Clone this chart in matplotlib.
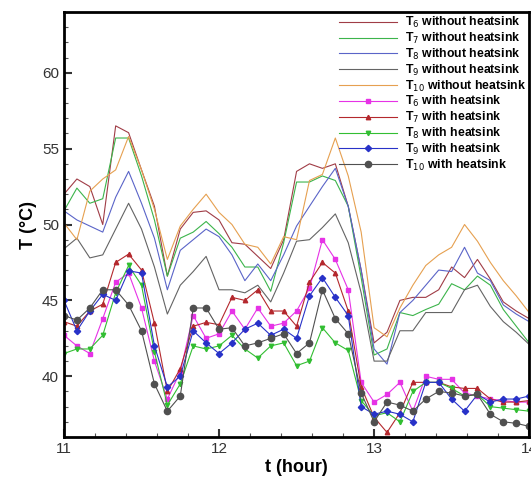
import numpy as np
import matplotlib
matplotlib.use('Agg')
import matplotlib.pyplot as plt
from matplotlib.ticker import MultipleLocator

plt.rcParams['font.family'] = ['Liberation Sans', 'DejaVu Sans']

# time axis: 5 minute steps from 11:00 to 14:00
t = 11 + np.arange(37) / 12.0

# without heatsink
T6_wo = [52.0, 53.0, 52.5, 50.0, 56.5, 56.05, 53.6, 51.2, 46.6, 49.7, 50.8, 50.9, 50.3,
         48.8, 48.7, 47.9, 47.1, 49.0, 53.5, 54.0, 53.7, 54.0, 51.2, 47.0, 42.2, 42.9,
         45.0, 45.2, 45.2, 45.7, 47.2, 46.5, 47.7, 46.4, 44.9, 44.3, 43.8]
T7_wo = [50.9, 52.4, 51.4, 51.7, 55.7, 55.7, 53.2, 50.3, 46.6, 49.1, 49.5, 50.2, 49.4,
         48.5, 47.2, 47.2, 45.6, 48.8, 52.8, 52.8, 53.2, 52.9, 51.2, 46.5, 41.4, 41.8,
         44.2, 44.0, 44.4, 44.75, 46.1, 45.7, 46.6, 46.0, 44.4, 43.3, 42.2]
T8_wo = [50.9, 50.3, 49.9, 49.5, 51.8, 53.5, 51.4, 49.1, 45.7, 48.3, 49.0, 49.7, 49.2,
         48.0, 46.3, 47.4, 46.3, 48.0, 49.9, 51.2, 52.5, 53.7, 51.2, 47.0, 41.8, 40.8,
         44.2, 45.0, 46.0, 47.0, 46.9, 48.5, 46.8, 46.3, 44.7, 44.1, 43.6]
T9_wo = [48.4, 49.1, 47.8, 48.0, 49.7, 51.4, 49.7, 47.2, 44.1, 46.0, 46.9, 47.9, 45.7,
         45.7, 45.5, 46.0, 44.9, 46.8, 48.9, 49.0, 49.8, 50.7, 48.8, 45.5, 41.0, 41.0,
         43.0, 43.0, 44.2, 44.2, 44.2, 45.7, 46.0, 44.6, 43.6, 42.9, 42.1]
T10_wo = [50.1, 49.0, 52.2, 53.0, 53.6, 55.8, 53.6, 51.0, 47.7, 49.9, 51.0, 52.0, 50.8,
          50.0, 48.7, 48.5, 47.4, 49.2, 49.0, 52.9, 53.3, 55.7, 53.2, 49.5, 43.2, 42.6,
          44.5, 46.0, 47.3, 48.0, 48.5, 50.0, 48.9, 47.5, 46.3, 45.3, 44.2]

# with heatsink
T6_w = [42.7, 42.0, 41.5, 43.8, 46.2, 46.8, 44.5, 41.0, 38.5, 40.3, 44.0, 42.5, 42.8,
        44.3, 43.1, 44.5, 43.3, 43.5, 44.3, 45.8, 49.0, 47.7, 45.7, 39.6, 38.3, 38.8,
        39.6, 37.7, 40.0, 39.8, 39.8, 38.9, 38.7, 38.5, 38.4, 38.3, 38.3]
T7_w = [43.6, 43.3, 44.3, 44.75, 47.5, 48.05, 47.0, 43.5, 39.0, 40.5, 43.3, 43.55, 43.4,
        45.2, 45.0, 45.7, 44.3, 44.3, 43.3, 46.2, 47.5, 46.8, 44.3, 39.3, 37.3, 36.3,
        37.6, 39.6, 39.6, 39.6, 39.3, 39.2, 39.2, 38.5, 38.3, 38.3, 38.4]
T8_w = [41.5, 41.8, 41.8, 42.7, 45.5, 47.3, 46.0, 41.6, 38.1, 39.5, 42.0, 41.8, 42.0,
        42.7, 41.8, 41.2, 42.0, 42.2, 40.7, 41.0, 43.2, 42.2, 41.7, 38.4, 37.4, 37.6,
        37.0, 39.0, 39.6, 39.6, 39.2, 38.7, 38.8, 38.0, 37.9, 37.8, 37.7]
T9_w = [45.0, 43.0, 44.3, 45.4, 45.0, 46.95, 46.8, 42.0, 39.3, 40.0, 43.0, 42.2, 41.5,
        42.2, 43.1, 43.5, 42.7, 43.1, 42.5, 45.3, 46.5, 45.2, 44.0, 38.0, 37.5, 37.7,
        37.5, 37.0, 39.6, 39.6, 38.5, 37.7, 38.8, 38.3, 38.5, 38.5, 38.7]
T10_w = [44.0, 43.7, 44.5, 45.7, 45.7, 44.7, 43.0, 39.5, 37.7, 38.7, 44.5, 44.5, 43.1,
         43.2, 42.0, 42.2, 42.5, 42.8, 41.5, 42.2, 45.7, 43.8, 42.8, 38.9, 37.0, 38.3,
         38.1, 37.7, 38.5, 39.0, 38.9, 38.7, 38.8, 37.5, 37.0, 36.9, 36.7]

fig = plt.figure(figsize=(5.31, 4.78), dpi=100)
ax = fig.add_axes([0.1205, 0.0858, 0.876, 0.889])

lw = 0.8
ax.plot(t, T6_wo, color='#a03c46', lw=lw, label='T$_6$ without heatsink')
ax.plot(t, T7_wo, color='#3cb44b', lw=lw, label='T$_7$ without heatsink')
ax.plot(t, T8_wo, color='#5a64c8', lw=lw, label='T$_8$ without heatsink')
ax.plot(t, T9_wo, color='#646464', lw=lw, label='T$_9$ without heatsink')
ax.plot(t, T10_wo, color='#e6a050', lw=lw, label='T$_{10}$ without heatsink')

ax.plot(t, T6_w, color='#e632e6', lw=lw, marker='s', ms=3.5, label='T$_6$ with heatsink')
ax.plot(t, T7_w, color='#b4282d', lw=lw, marker='^', ms=3.2, label='T$_7$ with heatsink')
ax.plot(t, T8_w, color='#32be32', lw=lw, marker='v', ms=3.2, label='T$_8$ with heatsink')
ax.plot(t, T9_w, color='#2832c8', lw=lw, marker='D', ms=3.2, label='T$_9$ with heatsink')
ax.plot(t, T10_w, color='#505050', lw=lw, marker='o', ms=4.5, label='T$_{10}$ with heatsink')

ax.set_xlim(11, 14)
ax.set_ylim(36, 64)
ax.xaxis.set_major_locator(MultipleLocator(1))
ax.xaxis.set_minor_locator(MultipleLocator(0.2))
ax.yaxis.set_major_locator(MultipleLocator(5))
ax.yaxis.set_minor_locator(MultipleLocator(1))
ax.tick_params(which='major', direction='in', length=6, width=1.5, labelsize=11, colors='#333333')
ax.tick_params(which='minor', direction='in', length=3, width=0.8, color='#555555')
for s in ax.spines.values():
    s.set_linewidth(2)

ax.set_xlabel('t (hour)', fontsize=13, fontweight='bold', labelpad=2)
ax.set_ylabel('T (°C)', fontsize=13, fontweight='bold', labelpad=4)

ax.legend(loc='upper right', bbox_to_anchor=(1.0, 1.0), frameon=False,
          prop={'weight': 'bold', 'size': 8.8}, handlelength=4.7, labelspacing=0.06,
          handletextpad=0.7, borderaxespad=0.0, borderpad=0.25)

fig.savefig('out.png', dpi=100)
